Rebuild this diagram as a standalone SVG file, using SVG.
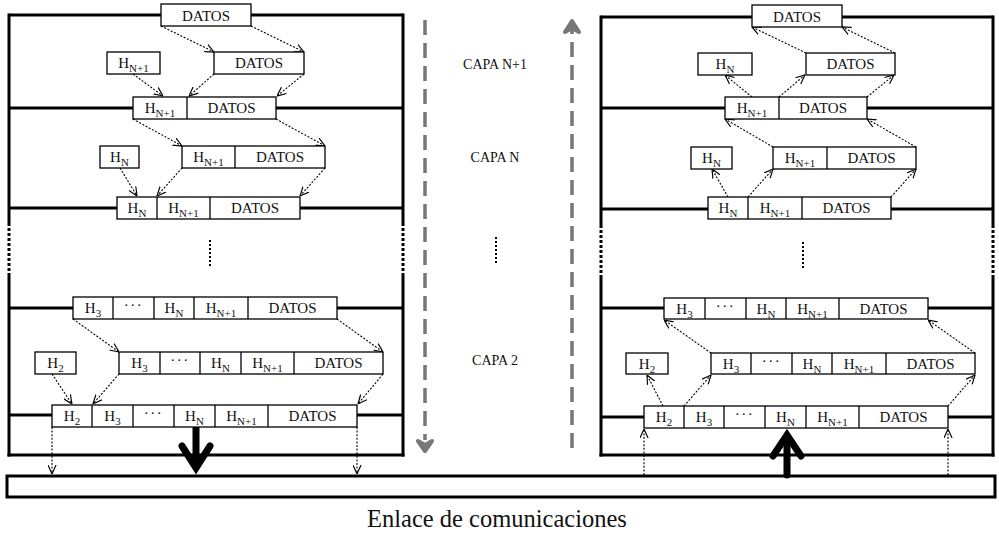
<svg xmlns="http://www.w3.org/2000/svg" width="999" height="534" viewBox="0 0 999 534" font-family="'Liberation Serif','Times New Roman',serif">
<style>
.frame{stroke:#000;stroke-width:3;fill:none}
.fdot{stroke:#000;stroke-width:3;fill:none;stroke-dasharray:3 2}
.box{fill:#fff;stroke:#000;stroke-width:1.3}
.div{stroke:#000;stroke-width:1.3}
.con{stroke:#000;stroke-width:1.1;fill:none;stroke-dasharray:2 1.6;marker-end:url(#v)}
.thick{stroke:#000;stroke-width:7;fill:none;stroke-linecap:round}
.gray{stroke:#777;stroke-width:3.5;fill:none;stroke-dasharray:15 8}
.ghead{stroke:#777;stroke-width:4;fill:#777;stroke-linecap:round;stroke-linejoin:round}
.vdots{stroke:#000;stroke-width:2;stroke-dasharray:2 2}
text{font-family:"Liberation Serif","Times New Roman",serif;fill:#111}
.t{font-size:15px;text-anchor:middle}
.s{font-size:11px}
.cap{font-size:14px;text-anchor:middle}
.big{font-size:24.5px;text-anchor:middle}
</style>
<defs>
<marker id="v" viewBox="0 0 10 10" refX="10" refY="5" markerWidth="9" markerHeight="9" markerUnits="userSpaceOnUse" orient="auto">
<path d="M0,0.5 L10,5 L0,9.5" fill="none" stroke="#000" stroke-width="1.3"/>
</marker>
</defs>
<rect width="999" height="534" fill="#fff"/>

<g id="left-frame">
<line class="frame" x1="9" y1="15" x2="403" y2="15"/>
<line class="frame" x1="9" y1="108" x2="403" y2="108"/>
<line class="frame" x1="9" y1="208" x2="403" y2="208"/>
<line class="frame" x1="9" y1="308" x2="403" y2="308"/>
<line class="frame" x1="9" y1="415" x2="403" y2="415"/>
<line class="frame" x1="7.5" y1="455" x2="404.5" y2="455"/>
<line class="frame" x1="9" y1="13.5" x2="9" y2="223"/>
<line class="fdot" x1="9" y1="223" x2="9" y2="275"/>
<line class="frame" x1="9" y1="275" x2="9" y2="456.5"/>
<line class="frame" x1="403" y1="13.5" x2="403" y2="223"/>
<line class="fdot" x1="403" y1="223" x2="403" y2="275"/>
<line class="frame" x1="403" y1="275" x2="403" y2="456.5"/>
<line class="vdots" x1="210" y1="240" x2="210" y2="268"/>
</g>

<g id="right-frame">
<line class="frame" x1="601" y1="17" x2="993" y2="17"/>
<line class="frame" x1="601" y1="108" x2="993" y2="108"/>
<line class="frame" x1="601" y1="209" x2="993" y2="209"/>
<line class="frame" x1="601" y1="308" x2="993" y2="308"/>
<line class="frame" x1="601" y1="417" x2="993" y2="417"/>
<line class="frame" x1="599.5" y1="455" x2="994.5" y2="455"/>
<line class="frame" x1="601" y1="15.5" x2="601" y2="225"/>
<line class="fdot" x1="601" y1="225" x2="601" y2="275"/>
<line class="frame" x1="601" y1="275" x2="601" y2="456.5"/>
<line class="frame" x1="993" y1="15.5" x2="993" y2="225"/>
<line class="fdot" x1="993" y1="225" x2="993" y2="275"/>
<line class="frame" x1="993" y1="275" x2="993" y2="456.5"/>
<line class="vdots" x1="803" y1="242" x2="803" y2="268"/>
</g>

<g id="middle">
<line class="gray" x1="425" y1="20" x2="425" y2="440"/>
<polygon class="ghead" points="418,441 425,451 432,441 425,445"/>
<line class="gray" x1="572" y1="448" x2="572" y2="30"/>
<polygon class="ghead" points="565,32 572,21 579,32 572,28"/>
<text class="cap" x="495" y="69">CAPA N+1</text>
<text class="cap" x="495" y="162">CAPA N</text>
<line class="vdots" x1="496" y1="237" x2="496" y2="264"/>
<text class="cap" x="495" y="365">CAPA 2</text>
</g>

<g id="enlace">
<rect x="7" y="476" width="988" height="21" fill="#fff" stroke="#000" stroke-width="3"/>
<text class="big" x="497" y="527">Enlace de comunicaciones</text>
</g>

<g id="connectors">
<line class="con" x1="161" y1="26" x2="214" y2="52"/>
<line class="con" x1="251" y1="26" x2="304" y2="52"/>
<line class="con" x1="133" y1="74" x2="163" y2="96"/>
<line class="con" x1="214" y1="74" x2="189" y2="96"/>
<line class="con" x1="304" y1="74" x2="277" y2="96"/>
<line class="con" x1="133" y1="119" x2="182" y2="146"/>
<line class="con" x1="276" y1="119" x2="325" y2="146"/>
<line class="con" x1="120" y1="168" x2="137" y2="196"/>
<line class="con" x1="182" y1="168" x2="157" y2="196"/>
<line class="con" x1="325" y1="168" x2="300" y2="196"/>
<line class="con" x1="73" y1="319" x2="119" y2="352"/>
<line class="con" x1="337" y1="319" x2="383" y2="352"/>
<line class="con" x1="52" y1="374" x2="72" y2="404"/>
<line class="con" x1="119" y1="374" x2="93" y2="404"/>
<line class="con" x1="383" y1="374" x2="358" y2="404"/>
<line class="con" x1="52" y1="427" x2="52" y2="474"/>
<line class="con" x1="357" y1="427" x2="357" y2="474"/>
<line class="thick" x1="196" y1="428" x2="196" y2="466" stroke-linecap="butt"/>
<polyline class="thick" points="182,446 196,468 210,446" stroke-linejoin="miter"/>

<line class="con" x1="806" y1="53" x2="752" y2="27"/>
<line class="con" x1="895" y1="53" x2="842" y2="27"/>
<line class="con" x1="752" y1="97" x2="725" y2="75"/>
<line class="con" x1="779" y1="97" x2="805" y2="75"/>
<line class="con" x1="867" y1="97" x2="894" y2="75"/>
<line class="con" x1="773" y1="147" x2="725" y2="119"/>
<line class="con" x1="916" y1="147" x2="867" y2="119"/>
<line class="con" x1="728" y1="197" x2="712" y2="169"/>
<line class="con" x1="748" y1="197" x2="773" y2="169"/>
<line class="con" x1="891" y1="197" x2="916" y2="169"/>
<line class="con" x1="711" y1="353" x2="664" y2="320"/>
<line class="con" x1="975" y1="353" x2="928" y2="320"/>
<line class="con" x1="663" y1="406" x2="647" y2="375"/>
<line class="con" x1="684" y1="406" x2="711" y2="375"/>
<line class="con" x1="948" y1="406" x2="975" y2="375"/>
<line class="con" x1="644" y1="475" x2="644" y2="429"/>
<line class="con" x1="948" y1="475" x2="948" y2="429"/>
<line class="thick" x1="787" y1="475" x2="787" y2="437" stroke-linecap="butt"/>
<polyline class="thick" points="773,456 787,435 801,456" stroke-linejoin="miter"/>
</g>

<!-- LEFT STACK NODES -->
<g id="L1"><rect class="box" x="161" y="4" width="90" height="22"/><text class="t" x="206" y="20.5">DATOS</text></g>
<g id="L2a"><rect class="box" x="107" y="52" width="53" height="22"/><text class="t" x="133.5" y="68">H<tspan class="s" dy="4">N+1</tspan></text></g>
<g id="L2b"><rect class="box" x="214" y="52" width="90" height="22"/><text class="t" x="259" y="68">DATOS</text></g>
<g id="L3"><rect class="box" x="133" y="97" width="143" height="22"/><line class="div" x1="187" y1="97" x2="187" y2="119"/>
<text class="t" x="160" y="113">H<tspan class="s" dy="4">N+1</tspan></text><text class="t" x="231.5" y="113">DATOS</text></g>
<g id="L4a"><rect class="box" x="100" y="146" width="39" height="22"/><text class="t" x="119.5" y="162">H<tspan class="s" dy="4">N</tspan></text></g>
<g id="L4b"><rect class="box" x="182" y="146" width="143" height="22"/><line class="div" x1="235" y1="146" x2="235" y2="168"/>
<text class="t" x="208.5" y="162">H<tspan class="s" dy="4">N+1</tspan></text><text class="t" x="280" y="162">DATOS</text></g>
<g id="L5"><rect class="box" x="117" y="197" width="183" height="22"/><line class="div" x1="157" y1="197" x2="157" y2="219"/><line class="div" x1="210" y1="197" x2="210" y2="219"/>
<text class="t" x="137" y="213">H<tspan class="s" dy="4">N</tspan></text><text class="t" x="183.5" y="213">H<tspan class="s" dy="4">N+1</tspan></text><text class="t" x="255" y="213">DATOS</text></g>
<g id="L6"><rect class="box" x="73" y="297" width="264" height="22"/>
<line class="div" x1="113" y1="297" x2="113" y2="319"/><line class="div" x1="154" y1="297" x2="154" y2="319"/><line class="div" x1="194" y1="297" x2="194" y2="319"/><line class="div" x1="248" y1="297" x2="248" y2="319"/>
<text class="t" x="93" y="313">H<tspan class="s" dy="4">3</tspan></text><text class="t" x="133.5" y="310" letter-spacing="1.5">···</text><text class="t" x="174" y="313">H<tspan class="s" dy="4">N</tspan></text><text class="t" x="221" y="313">H<tspan class="s" dy="4">N+1</tspan></text><text class="t" x="292.5" y="313">DATOS</text></g>
<g id="L7a"><rect class="box" x="35" y="352" width="41" height="22"/><text class="t" x="55.5" y="368">H<tspan class="s" dy="4">2</tspan></text></g>
<g id="L7b"><rect class="box" x="119" y="352" width="264" height="22"/>
<line class="div" x1="160" y1="352" x2="160" y2="374"/><line class="div" x1="200" y1="352" x2="200" y2="374"/><line class="div" x1="241" y1="352" x2="241" y2="374"/><line class="div" x1="294" y1="352" x2="294" y2="374"/>
<text class="t" x="139.5" y="368">H<tspan class="s" dy="4">3</tspan></text><text class="t" x="180" y="365" letter-spacing="1.5">···</text><text class="t" x="220.5" y="368">H<tspan class="s" dy="4">N</tspan></text><text class="t" x="267.5" y="368">H<tspan class="s" dy="4">N+1</tspan></text><text class="t" x="338.5" y="368">DATOS</text></g>
<g id="L8"><rect class="box" x="52" y="405" width="305" height="22"/>
<line class="div" x1="92" y1="405" x2="92" y2="427"/><line class="div" x1="133" y1="405" x2="133" y2="427"/><line class="div" x1="174" y1="405" x2="174" y2="427"/><line class="div" x1="215" y1="405" x2="215" y2="427"/><line class="div" x1="268" y1="405" x2="268" y2="427"/>
<text class="t" x="72" y="421">H<tspan class="s" dy="4">2</tspan></text><text class="t" x="112.5" y="421">H<tspan class="s" dy="4">3</tspan></text><text class="t" x="153.5" y="418" letter-spacing="1.5">···</text><text class="t" x="194.5" y="421">H<tspan class="s" dy="4">N</tspan></text><text class="t" x="241.5" y="421">H<tspan class="s" dy="4">N+1</tspan></text><text class="t" x="312.5" y="421">DATOS</text></g>

<!-- RIGHT STACK NODES -->
<g id="R1"><rect class="box" x="752" y="5" width="90" height="22"/><text class="t" x="797" y="21.5">DATOS</text></g>
<g id="R2a"><rect class="box" x="698" y="53" width="54" height="22"/><text class="t" x="725" y="69">H<tspan class="s" dy="4">N</tspan></text></g>
<g id="R2b"><rect class="box" x="806" y="53" width="89" height="22"/><text class="t" x="850.5" y="69">DATOS</text></g>
<g id="R3"><rect class="box" x="725" y="97" width="142" height="22"/><line class="div" x1="779" y1="97" x2="779" y2="119"/>
<text class="t" x="752" y="113">H<tspan class="s" dy="4">N+1</tspan></text><text class="t" x="823" y="113">DATOS</text></g>
<g id="R4a"><rect class="box" x="691" y="147" width="41" height="22"/><text class="t" x="711.5" y="163">H<tspan class="s" dy="4">N</tspan></text></g>
<g id="R4b"><rect class="box" x="773" y="147" width="143" height="22"/><line class="div" x1="827" y1="147" x2="827" y2="169"/>
<text class="t" x="800" y="163">H<tspan class="s" dy="4">N+1</tspan></text><text class="t" x="871.5" y="163">DATOS</text></g>
<g id="R5"><rect class="box" x="708" y="197" width="183" height="22"/><line class="div" x1="748" y1="197" x2="748" y2="219"/><line class="div" x1="802" y1="197" x2="802" y2="219"/>
<text class="t" x="728" y="213">H<tspan class="s" dy="4">N</tspan></text><text class="t" x="775" y="213">H<tspan class="s" dy="4">N+1</tspan></text><text class="t" x="846.5" y="213">DATOS</text></g>
<g id="R6"><rect class="box" x="664" y="298" width="264" height="21"/>
<line class="div" x1="705" y1="298" x2="705" y2="319"/><line class="div" x1="746" y1="298" x2="746" y2="319"/><line class="div" x1="786" y1="298" x2="786" y2="319"/><line class="div" x1="839" y1="298" x2="839" y2="319"/>
<text class="t" x="684.5" y="314">H<tspan class="s" dy="4">3</tspan></text><text class="t" x="725.5" y="311" letter-spacing="1.5">···</text><text class="t" x="766" y="314">H<tspan class="s" dy="4">N</tspan></text><text class="t" x="812.5" y="314">H<tspan class="s" dy="4">N+1</tspan></text><text class="t" x="883.5" y="314">DATOS</text></g>
<g id="R7a"><rect class="box" x="626" y="353" width="42" height="21"/><text class="t" x="647" y="369">H<tspan class="s" dy="4">2</tspan></text></g>
<g id="R7b"><rect class="box" x="711" y="353" width="264" height="21"/>
<line class="div" x1="751" y1="353" x2="751" y2="374"/><line class="div" x1="792" y1="353" x2="792" y2="374"/><line class="div" x1="832" y1="353" x2="832" y2="374"/><line class="div" x1="886" y1="353" x2="886" y2="374"/>
<text class="t" x="731" y="369">H<tspan class="s" dy="4">3</tspan></text><text class="t" x="771.5" y="366" letter-spacing="1.5">···</text><text class="t" x="812" y="369">H<tspan class="s" dy="4">N</tspan></text><text class="t" x="859" y="369">H<tspan class="s" dy="4">N+1</tspan></text><text class="t" x="930.5" y="369">DATOS</text></g>
<g id="R8"><rect class="box" x="644" y="406" width="304" height="22"/>
<line class="div" x1="684" y1="406" x2="684" y2="428"/><line class="div" x1="724" y1="406" x2="724" y2="428"/><line class="div" x1="765" y1="406" x2="765" y2="428"/><line class="div" x1="806" y1="406" x2="806" y2="428"/><line class="div" x1="859" y1="406" x2="859" y2="428"/>
<text class="t" x="664" y="422">H<tspan class="s" dy="4">2</tspan></text><text class="t" x="704" y="422">H<tspan class="s" dy="4">3</tspan></text><text class="t" x="744.5" y="419" letter-spacing="1.5">···</text><text class="t" x="785.5" y="422">H<tspan class="s" dy="4">N</tspan></text><text class="t" x="832.5" y="422">H<tspan class="s" dy="4">N+1</tspan></text><text class="t" x="903.5" y="422">DATOS</text></g>
</svg>
